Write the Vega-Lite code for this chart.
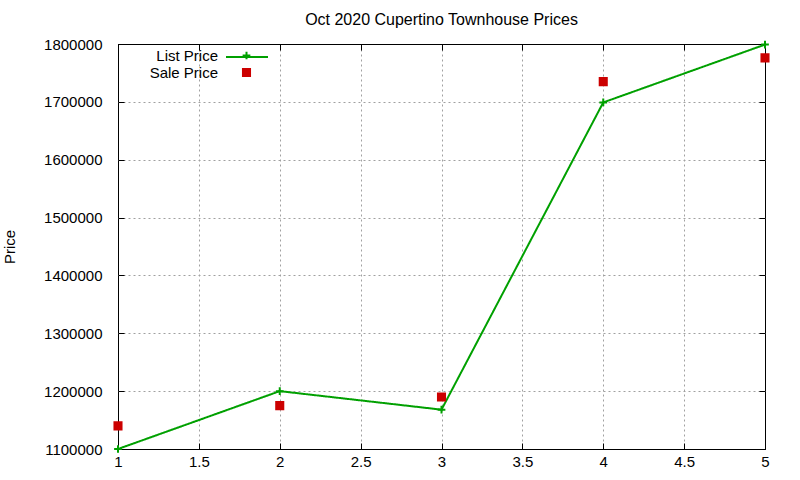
{
  "$schema": "https://vega.github.io/schema/vega-lite/v6.json",
  "autosize": {"type": "none"},
  "width": 647,
  "height": 405,
  "padding": {"left": 118, "top": 44, "right": 35, "bottom": 31},
  "background": "white",
  "title": {"text": "Oct 2020 Cupertino Townhouse Prices", "font": "Liberation Sans", "fontSize": 16, "fontWeight": "normal", "color": "black", "offset": 7},
  "config": {
    "view": {"stroke": "black", "strokeWidth": 1},
    "axis": {"labelFont": "Liberation Sans", "labelFontSize": 15, "labelColor": "black", "titleFont": "Liberation Sans", "titleFontSize": 15, "titleFontWeight": "normal", "titleColor": "black", "domain": false, "tickColor": "black", "gridWidth": 1, "labelFlush": false}
  },
  "data": {"values": [
    {"x": 1, "price": 1100000, "series": "List Price"},
    {"x": 2, "price": 1200000, "series": "List Price"},
    {"x": 3, "price": 1168000, "series": "List Price"},
    {"x": 4, "price": 1699000, "series": "List Price"},
    {"x": 5, "price": 1799000, "series": "List Price"},
    {"x": 1, "price": 1140000, "series": "Sale Price"},
    {"x": 2, "price": 1175000, "series": "Sale Price"},
    {"x": 3, "price": 1190000, "series": "Sale Price"},
    {"x": 4, "price": 1735000, "series": "Sale Price"},
    {"x": 5, "price": 1776000, "series": "Sale Price"}
  ]},
  "resolve": {"axis": {"x": "independent", "y": "independent"}},
  "layer": [
    {
      "mark": {"type": "point", "opacity": 0},
      "encoding": {
        "x": {"field": "x", "type": "quantitative", "scale": {"domain": [1, 5], "nice": false, "zero": false},
          "axis": {"orient": "top", "title": null, "labels": false, "grid": false, "values": [1, 1.5, 2, 2.5, 3, 3.5, 4, 4.5, 5], "tickSize": -6}},
        "y": {"field": "price", "type": "quantitative", "scale": {"domain": [1100000, 1800000], "nice": false, "zero": false},
          "axis": {"orient": "right", "title": null, "labels": false, "grid": false, "values": [1100000, 1200000, 1300000, 1400000, 1500000, 1600000, 1700000, 1800000], "tickSize": -6}}
      }
    },
    {
      "transform": [{"filter": "datum.series === 'List Price'"}],
      "mark": {"type": "line", "color": "#00a000", "strokeWidth": 2},
      "encoding": {
        "x": {"field": "x", "type": "quantitative", "scale": {"domain": [1, 5], "nice": false, "zero": false},
          "axis": {"title": null, "grid": true, "gridColor": {"condition": {"test": "datum.value === 5 || datum.value === 1", "value": "black"}, "value": "#a0a0a0"}, "gridDash": {"condition": {"test": "datum.value === 5 || datum.value === 1", "value": []}, "value": [2, 3]}, "values": [1, 1.5, 2, 2.5, 3, 3.5, 4, 4.5, 5], "format": "~g", "tickSize": -6, "labelPadding": 11}},
        "y": {"field": "price", "type": "quantitative", "scale": {"domain": [1100000, 1800000], "nice": false, "zero": false},
          "axis": {"title": "Price", "grid": true, "gridColor": {"condition": {"test": "datum.value === 1800000 || datum.value === 1100000", "value": "black"}, "value": "#a0a0a0"}, "gridDash": {"condition": {"test": "datum.value === 1800000 || datum.value === 1100000", "value": []}, "value": [2, 3]}, "values": [1100000, 1200000, 1300000, 1400000, 1500000, 1600000, 1700000, 1800000], "format": "d", "tickSize": -6, "labelPadding": 22, "titlePadding": 26}},
        "strokeDash": {"field": "series", "type": "nominal", "scale": {"domain": ["List Price"], "range": [[1, 0]]},
          "legend": {"title": null, "orient": "none", "legendX": 107, "legendY": -9, "symbolType": "stroke", "symbolStrokeColor": "#00a000", "symbolStrokeWidth": 2, "symbolSize": 1764, "labelOpacity": 0, "labelColor": "transparent"}}
      }
    },
    {
      "mark": {"type": "point", "filled": false, "opacity": 1, "strokeWidth": 2},
      "encoding": {
        "x": {"field": "x", "type": "quantitative", "axis": null},
        "y": {"field": "price", "type": "quantitative", "axis": null},
        "color": {"field": "series", "type": "nominal", "scale": {"domain": ["List Price", "Sale Price"], "range": ["#00a000", "#cc0000"]},
          "legend": {"title": null, "orient": "none", "legendX": 121, "legendY": 4, "labelAlign": "right", "labelOffset": -36, "labelFont": "Liberation Sans", "labelFontSize": 15, "labelColor": "black", "rowPadding": 0, "symbolStrokeWidth": 2}},
        "shape": {"field": "series", "type": "nominal", "scale": {"domain": ["List Price", "Sale Price"], "range": ["M-1,0L1,0M0,-1L0,1", "square"]}},
        "fill": {"field": "series", "type": "nominal", "scale": {"domain": ["List Price", "Sale Price"], "range": ["transparent", "#cc0000"]}, "legend": null},
        "size": {"field": "series", "type": "nominal", "scale": {"domain": ["List Price", "Sale Price"], "range": [60, 50]}, "legend": null}
      }
    }
  ]
}
